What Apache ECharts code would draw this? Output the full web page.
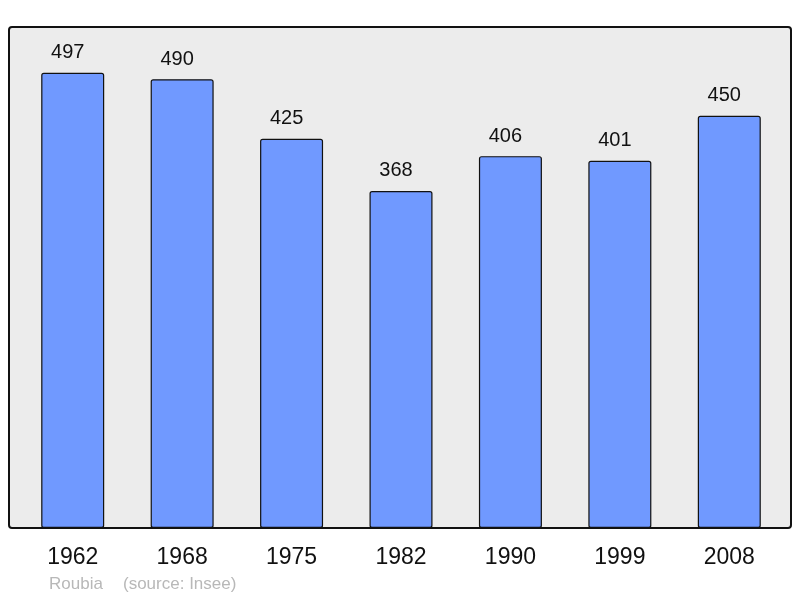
<!DOCTYPE html>
<html>
<head>
<meta charset="utf-8">
<script src="https://cdn.jsdelivr.net/npm/echarts@6/dist/echarts.min.js"></script>
<style>
    html, body { margin: 0; padding: 0; background: #ffffff; }
    #chart { width: 800px; height: 598px; }
</style>
</head>
<body>
<div id="chart"></div>
<script>
    const years = ["1962", "1968", "1975", "1982", "1990", "1999", "2008"];
    const population = [497, 490, 425, 368, 406, 401, 450];
    const placeName = "Roubia";
    const sourceText = "(source: Insee)";

    const chart = echarts.init(document.getElementById("chart"), null, { renderer: "canvas" });
    const fontFamily = "'Liberation Sans', Arial, sans-serif";

    chart.setOption({
        backgroundColor: "#ffffff",
        animation: false,
        graphic: [
            {
                type: "rect",
                z: 0,
                shape: { x: 9, y: 27, width: 782, height: 501, r: 3 },
                style: { fill: "#ececec", stroke: "#111111", lineWidth: 2 }
            },
            {
                type: "text",
                left: 49,
                top: 576,
                style: { text: placeName, fill: "#b8b8b8", font: "17px " + fontFamily }
            },
            {
                type: "text",
                left: 123,
                top: 576,
                style: { text: sourceText, fill: "#b8b8b8", font: "17px " + fontFamily }
            }
        ],
        grid: { left: 18, width: 766, top: 27, height: 501 },
        xAxis: {
            type: "category",
            data: years,
            axisLine: { show: false },
            axisTick: { show: false },
            axisLabel: {
                color: "#111111",
                fontSize: 23,
                fontFamily: fontFamily,
                margin: 18
            }
        },
        yAxis: {
            type: "value",
            min: 0,
            max: 547,
            show: false,
            splitLine: { show: false }
        },
        series: [
            {
                type: "bar",
                data: population,
                barWidth: 63,
                z: 2,
                itemStyle: {
                    color: "#7099ff",
                    borderColor: "#111111",
                    borderWidth: 1.2,
                    borderRadius: 2
                },
                label: {
                    show: true,
                    position: "top",
                    distance: 10,
                    offset: [-5, 0],
                    color: "#111111",
                    fontSize: 20,
                    fontFamily: fontFamily
                }
            }
        ]
    });
</script>
</body>
</html>
